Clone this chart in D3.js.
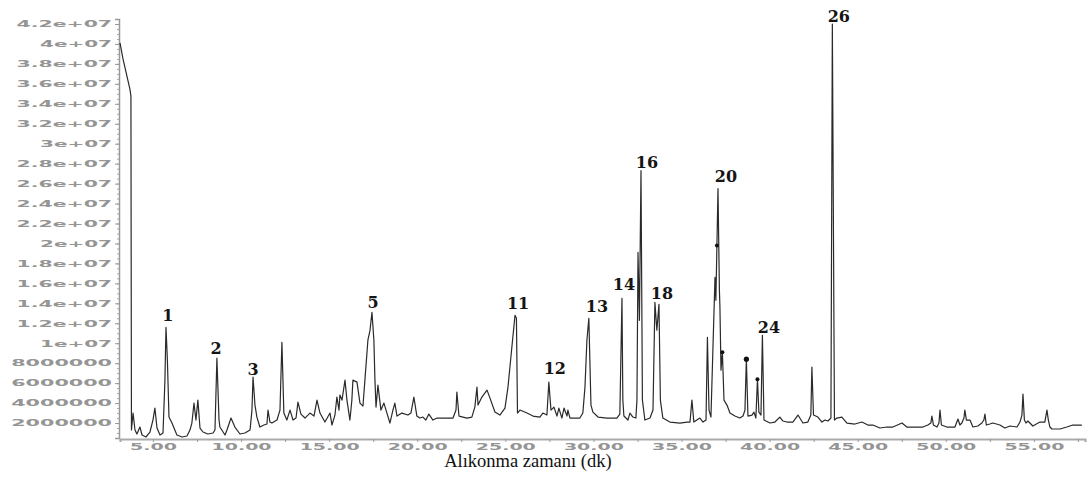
<!DOCTYPE html>
<html><head><meta charset="utf-8">
<script src="https://cdn.jsdelivr.net/npm/d3@7"></script>
<style>body{margin:0;background:#fff}svg{display:block}
.ttl{font-family:"Liberation Serif","Times New Roman",Times,serif}
.pk{font-family:"DejaVu Serif",serif}</style>
</head><body><svg id="c" width="1088" height="477"></svg>
<script>
// Retention time (min)
const times = [3.13,3.30,3.52,3.69,3.75,3.78,3.87,3.98,4.09,4.26,4.38,4.60,4.83,5.00,5.11,5.23,5.40,5.57,5.68,5.74,5.82,5.91,6.08,6.36,6.65,6.93,7.10,7.21,7.33,7.44,7.55,7.67,7.84,8.12,8.41,8.52,8.63,8.75,8.80,9.09,9.20,9.43,9.65,9.94,10.22,10.51,10.62,10.68,10.79,10.90,11.07,11.30,11.47,11.53,11.64,11.75,12.04,12.21,12.32,12.43,12.60,12.78,12.95,13.12,13.23,13.40,13.63,13.91,14.14,14.31,14.48,14.76,15.05,15.16,15.33,15.44,15.56,15.61,15.73,15.90,16.01,16.18,16.29,16.35,16.58,16.75,16.92,17.03,17.20,17.32,17.43,17.54,17.60,17.66,17.77,17.94,18.11,18.28,18.45,18.62,18.73,18.85,19.13,19.47,19.64,19.81,19.98,20.15,20.32,20.49,20.66,20.89,21.12,21.57,22.03,22.20,22.25,22.37,22.82,23.10,23.27,23.39,23.45,23.67,23.96,24.13,24.41,24.69,24.98,25.15,25.37,25.55,25.63,25.69,25.83,26.23,26.57,26.96,27.13,27.36,27.47,27.59,27.76,27.93,28.04,28.21,28.33,28.50,28.55,28.67,29.23,29.40,29.52,29.63,29.74,29.86,29.97,30.26,30.77,31.33,31.50,31.62,31.67,31.73,31.96,32.07,32.24,32.41,32.47,32.53,32.61,32.70,32.78,32.92,33.21,33.38,33.49,33.60,33.72,33.80,33.94,34.34,34.91,35.31,35.48,35.59,35.70,36.04,36.22,36.39,36.47,36.56,36.67,36.78,36.90,36.95,37.07,37.15,37.18,37.24,37.32,37.41,37.58,37.75,38.03,38.31,38.49,38.60,38.68,38.77,39.00,39.11,39.22,39.31,39.39,39.51,39.59,39.68,40.02,40.30,40.58,40.76,40.98,41.32,41.61,41.89,42.17,42.34,42.40,42.49,42.74,42.97,43.14,43.31,43.48,43.56,43.68,43.82,44.10,44.39,44.84,45.24,45.58,45.86,46.26,46.66,47.00,47.51,47.79,48.25,48.70,48.98,49.15,49.21,49.30,49.50,49.61,49.67,49.75,50.06,50.52,50.69,50.80,50.91,51.03,51.08,51.17,51.37,51.54,51.82,52.05,52.16,52.22,52.30,52.50,52.67,53.07,53.35,53.64,54.04,54.21,54.32,54.38,54.46,54.55,54.66,54.94,55.34,55.62,55.74,55.82,55.91,56.02,56.48,56.87,57.21,57.72];
// Abundance (x 1e6)
const abundance = [40.1,38.5,36.8,35.5,34.8,1.3,3.0,1.3,0.9,1.6,0.8,0.6,1.1,2.3,3.5,1.5,0.8,1.0,6.3,11.6,8.3,2.6,2.0,0.8,0.6,0.7,1.3,2.0,4.0,2.3,4.3,1.5,1.1,0.9,1.0,1.3,8.5,2.3,1.6,0.8,1.3,2.5,1.6,0.9,1.0,1.3,3.3,6.6,3.8,2.6,1.6,1.8,1.9,3.3,2.1,2.0,2.3,3.3,10.1,3.0,2.3,3.3,2.3,2.5,4.1,2.9,2.5,3.0,2.7,4.3,3.0,2.1,3.0,1.8,2.8,4.6,3.3,4.8,4.3,6.3,4.3,2.3,4.3,6.3,6.1,4.0,3.7,6.3,10.3,11.3,13.1,10.3,6.3,3.6,5.8,3.3,4.0,3.0,2.0,3.3,4.0,2.7,3.0,2.8,3.0,4.6,2.7,2.5,2.6,2.3,2.9,2.3,2.5,2.5,2.5,3.3,5.1,2.7,2.5,2.6,3.6,5.6,3.8,4.6,5.3,4.5,3.1,2.8,3.5,5.6,9.6,12.8,12.5,3.0,3.3,3.0,2.7,2.6,3.0,2.8,6.1,3.3,3.6,2.7,3.5,2.5,3.5,2.7,3.3,2.5,2.5,3.0,5.6,10.3,12.5,3.8,3.1,2.6,2.5,2.5,2.9,14.5,4.3,2.7,2.3,3.0,2.6,2.5,4.3,19.1,12.3,27.3,4.3,2.3,2.5,3.3,14.1,11.3,13.9,4.3,2.5,2.1,2.0,2.1,2.1,4.3,2.1,2.5,2.1,2.3,10.6,3.3,2.6,9.3,16.6,14.3,25.5,15.3,13.6,7.3,9.1,4.3,3.8,3.0,2.7,2.5,2.7,3.3,8.4,2.7,2.8,3.1,2.5,6.4,3.1,2.8,10.8,2.3,2.0,2.1,2.6,2.2,2.1,2.1,2.8,2.0,2.1,2.8,7.6,2.8,2.6,2.1,2.3,2.2,2.5,42.0,2.3,2.5,2.6,2.0,1.9,2.1,1.8,1.8,1.5,1.6,1.6,2.0,1.6,1.6,1.6,1.8,2.0,2.7,1.8,1.6,2.0,3.3,1.8,1.6,1.6,2.4,1.8,2.0,2.5,3.3,2.3,2.3,1.6,1.7,2.0,2.3,2.9,1.8,1.9,2.0,1.8,1.5,1.7,1.6,2.1,2.8,4.9,2.3,2.0,2.2,1.7,2.1,2.1,3.3,2.3,1.6,1.4,1.4,1.6,1.8,1.8];

const yTickValues = [2,4,6,8,10,12,14,16,18,20,22,24,26,28,30,32,34,36,38,40,42];
const yTickLabels = ["2000000","4000000","6000000","8000000","1e+07","1.2e+07","1.4e+07","1.6e+07","1.8e+07","2e+07","2.2e+07","2.4e+07","2.6e+07","2.8e+07","3e+07","3.2e+07","3.4e+07","3.6e+07","3.8e+07","4e+07","4.2e+07"];
const xTickValues = [5,10,15,20,25,30,35,40,45,50,55];
const xTickLabels = ["5.00","10.00","15.00","20.00","25.00","30.00","35.00","40.00","45.00","50.00","55.00"];
const xMinorTicks = [5,7.5,10,12.5,15,17.5,20,22.5,25,27.5,30,32.5,35,37.5,40,42.5,45,47.5,50,52.5,55,57.5];

const peakNames = ["1","2","3","5","11","12","13","14","16","18","20","24","26"];
const peakLabelTimes = [5.85,8.58,10.68,17.49,25.72,27.81,30.20,31.73,33.04,33.89,37.52,39.96,43.93];
const peakLabelValues = [12.2,8.9,6.8,13.5,13.4,6.9,13.1,15.3,27.6,14.4,26.2,11.0,42.2];

const dotTimes = [37.01,37.32,38.68,39.31];
const dotValues = [19.8,9.1,8.4,6.4];

const xTitle = "Alıkonma zamanı (dk)";
const xTitleCenterTime = 26.28;

const svg = d3.select("#c");
const x = d3.scaleLinear().domain([3.13, 57.90]).range([120, 1085]);
const y = d3.scaleLinear().domain([0.5, 42.5]).range([438, 19]);

// minor y ticks
const minorY = d3.range(0.5, 42.51, 0.5);
svg.append("g").attr("transform","translate(119,0)")
  .call(d3.axisLeft(y).tickValues(minorY).tickSize(2).tickFormat(""))
  .call(g=>g.select(".domain").remove())
  .call(g=>g.selectAll("line").attr("stroke","#aaa"));

function textW(s, w, p){ let n=0; for(const c of s){ n += (c==='.')?p:w; } return n; }

// y axis
const yAx = svg.append("g").attr("transform","translate(119,0)")
  .call(d3.axisLeft(y).tickValues(yTickValues).tickSizeOuter(0).tickSize(4).tickPadding(3)
    .tickFormat((d,i)=>yTickLabels[i]));
yAx.select(".domain").attr("stroke","#999").attr("stroke-width",1.5);
yAx.selectAll(".tick line").attr("stroke","#999");
yAx.selectAll(".tick text").each(function(d,i){
  const s = yTickLabels[i]; const L = textW(s,14.4,9);
  d3.select(this).attr("text-anchor","start").attr("x",-7-L).attr("dy","0.35em")
    .attr("textLength",L).attr("lengthAdjust","spacingAndGlyphs")
    .attr("fill","#959595").attr("font-family","DejaVu Sans").attr("font-size",8).attr("font-weight","bold");
});

// x axis
const xAx = svg.append("g").attr("transform","translate(0,439)")
  .call(d3.axisBottom(x).tickValues(xMinorTicks).tickSizeOuter(0).tickSize(3).tickPadding(3)
    .tickFormat(d=>{const k=xTickValues.indexOf(d); return k>=0?xTickLabels[k]:"";}));
xAx.select(".domain").attr("stroke","#aaa").attr("stroke-width",2.2);
xAx.selectAll(".tick line").attr("stroke","#999");
xAx.selectAll(".tick text").each(function(d){
  const k = xTickValues.indexOf(d); if(k<0) return;
  const s = xTickLabels[k]; const L = textW(s,13,8);
  d3.select(this).attr("text-anchor","start").attr("x",-L/2).attr("y",5).attr("dy","0.71em")
    .attr("textLength",L).attr("lengthAdjust","spacingAndGlyphs")
    .attr("fill","#959595").attr("font-family","DejaVu Sans").attr("font-size",8).attr("font-weight","bold");
});

// trace
const pts = times.map((t,i)=>[t, abundance[i]]);
svg.append("path").datum(pts)
  .attr("fill","none").attr("stroke","#2a2a2a").attr("stroke-width",1.2).attr("stroke-linejoin","round")
  .attr("d", d3.line().x(d=>x(d[0])).y(d=>y(d[1])));

// dots
svg.selectAll("circle.dot").data(dotTimes).join("circle").attr("class","dot")
  .attr("cx",(d,i)=>x(d)).attr("cy",(d,i)=>y(dotValues[i])).attr("r",(d,i)=>i===2?2.6:2)
  .attr("fill","#111");

// peak labels
svg.selectAll("text.pk").data(peakNames).join("text").attr("class","pk")
  .attr("x",(d,i)=>x(peakLabelTimes[i])).attr("y",(d,i)=>y(peakLabelValues[i]))
  .attr("text-anchor","middle").attr("font-weight","bold")
  .attr("font-size",16).attr("fill","#151515").text(d=>d);

// axis title
svg.append("text").attr("class","ttl").attr("x",x(xTitleCenterTime)).attr("y",467).attr("text-anchor","middle")
  .attr("font-size",18.5).attr("fill","#111").text(xTitle);
</script></body></html>
